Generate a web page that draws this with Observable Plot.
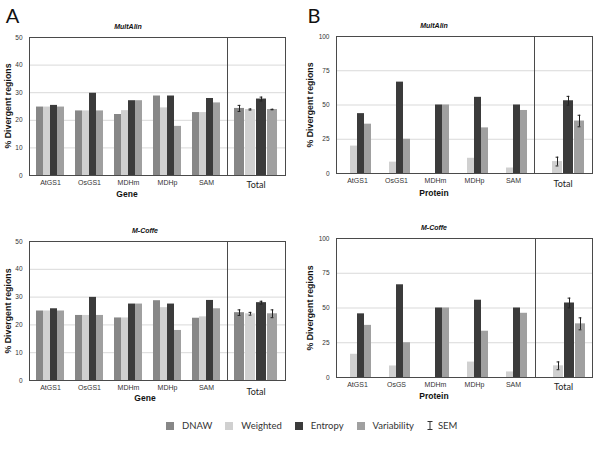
<!DOCTYPE html>
<html>
<head>
<meta charset="utf-8">
<script src="https://cdn.jsdelivr.net/npm/d3@7"></script>
<script src="https://cdn.jsdelivr.net/npm/@observablehq/plot@0.6"></script>
<style>
  body { margin: 0; background: #fff; }
  #fig { position: relative; width: 600px; height: 450px; overflow: hidden; font-family: "Liberation Sans", Arial, sans-serif; background: #fff; }
  #fig > svg, #fig > figure { position: absolute; margin: 0; }
  .t { position: absolute; white-space: nowrap; transform: translate(-50%, -50%); color: #111; line-height: 1; }
  .title { font-weight: bold; font-style: italic; font-size: 7px; }
  .axt { font-weight: bold; font-size: 8.5px; }
  .ylab { font-weight: bold; font-size: 8.8px; transform: translate(-50%, -50%) rotate(-90deg); }
  .tot { font-family: Lato, sans-serif; font-size: 9px; color: #222; }
  .letter { font-family: Lato, sans-serif; font-size: 20px; color: #111; }
  #legend { position: absolute; left: 166px; top: 420px; display: flex; align-items: center; font-family: Lato, sans-serif; font-size: 9.5px; color: #333; }
  #legend .sw { width: 8px; height: 8px; margin-right: 8px; }
  #legend .lab { margin-right: 13px; }
</style>
</head>
<body>
<div id="fig"></div>
<script>
// ---------- data ----------
const series = ["DNAW", "Weighted", "Entropy", "Variability"];
const seriesColors = ["#878787", "#d0d0d0", "#3b3b3b", "#a0a0a0"];

const geneCategories = ["AtGS1", "OsGS1", "MDHm", "MDHp", "SAM"];
const proteinCategoriesMultAlin = ["AtGS1", "OsGS1", "MDHm", "MDHp", "SAM"];
const proteinCategoriesMCoffe = ["AtGS1", "OsGS", "MDHm", "MDHp", "SAM"];
const geneTicks = [0, 10, 20, 30, 40, 50];
const proteinTicks = [0, 25, 50, 75, 100];

// A – MultAlin (Gene)
const geneMultAlinDNAW = [24.8, 23.4, 22.1, 28.8, 22.8];
const geneMultAlinWeighted = [24.8, 23.4, 23.5, 24.5, 22.8];
const geneMultAlinEntropy = [25.4, 29.8, 27.1, 28.8, 27.9];
const geneMultAlinVariability = [24.8, 23.4, 27.1, 17.8, 26.3];
const geneMultAlinTotal = [24.3, 23.9, 27.7, 23.9];
const geneMultAlinSEM = [1.1, 0.2, 0.7, 0.1];

// A – M-Coffe (Gene)
const geneMCoffeDNAW = [25.0, 23.4, 22.5, 28.7, 22.4];
const geneMCoffeWeighted = [25.0, 23.4, 22.5, 26.2, 22.9];
const geneMCoffeEntropy = [25.8, 29.9, 27.5, 27.5, 28.8];
const geneMCoffeVariability = [25.0, 23.4, 27.5, 18.0, 25.8];
const geneMCoffeTotal = [24.4, 24.0, 28.0, 24.0];
const geneMCoffeSEM = [1.0, 0.5, 0.5, 1.4];

// B – MultAlin (Protein)
const protMultAlinDNAW = [0, 0, 0, 0, 0];
const protMultAlinWeighted = [20.0, 8.3, 0, 11.1, 4.0];
const protMultAlinEntropy = [43.7, 66.7, 50.0, 55.6, 50.0];
const protMultAlinVariability = [36.0, 25.0, 50.0, 33.3, 46.0];
const protMultAlinTotal = [0, 8.7, 53.1, 38.3];
const protMultAlinSEM = [0, 3.2, 3.2, 4.2];

// B – M-Coffe (Protein)
const protMCoffeDNAW = [0, 0, 0, 0, 0];
const protMCoffeWeighted = [16.7, 8.3, 0, 11.1, 4.0];
const protMCoffeEntropy = [45.8, 66.7, 50.0, 55.6, 50.0];
const protMCoffeVariability = [37.5, 25.0, 50.0, 33.3, 46.2];
const protMCoffeTotal = [0, 8.4, 53.6, 38.6];
const protMCoffeSEM = [0, 2.8, 3.5, 4.3];

// ---------- helpers ----------
function rowsFrom(cats, arrays) {
  const rows = [];
  cats.forEach((c, i) => series.forEach((s, j) => rows.push({cat: c, series: s, value: arrays[j][i]})));
  return rows;
}
function totalsFrom(vals, sems) {
  return series.map((s, j) => ({series: s, value: vals[j], sem: sems[j]}));
}

const fig = document.getElementById("fig");
const GRID = "#d9d9d9", FRAME = "#4a4a4a";

function place(el, left, top) {
  el.style.position = "absolute";
  el.style.left = left + "px";
  el.style.top = top + "px";
  fig.appendChild(el);
}
function text(cls, str, x, y) {
  const d = document.createElement("div");
  d.className = "t " + cls;
  d.textContent = str;
  d.style.left = x + "px";
  d.style.top = y + "px";
  fig.appendChild(d);
}

function drawPanel(p) {
  const MT = 10, MB = 30;
  const h = p.bottom - p.top + MT + MB;
  const svgTop = p.top - MT;
  const baseStyle = {background: "transparent", fontFamily: "Liberation Sans, Arial, sans-serif", color: "#333", overflow: "visible"};
  const rows = rowsFrom(p.cats, p.values);
  const totals = totalsFrom(p.total, p.sem);
  const errs = totals.filter(d => d.sem > 0);

  // background: grid, frame, y axis
  const bg = Plot.plot({
    width: p.divider + 1, height: h,
    marginLeft: p.left, marginRight: 1, marginTop: MT, marginBottom: MB,
    style: {...baseStyle, fontSize: "6.5px"},
    y: {domain: [0, p.yMax], ticks: p.yTicks, tickSize: 0, tickPadding: 7, label: null},
    marks: [
      Plot.ruleY(p.yTicks, {stroke: GRID}),
      Plot.frame({stroke: FRAME})
    ]
  });
  place(bg, 0, svgTop);

  // foreground: grouped bars per category
  const fg = Plot.plot({
    width: p.divider + 1, height: h,
    marginLeft: p.left, marginRight: 1, marginTop: MT, marginBottom: MB,
    style: {...baseStyle, fontSize: "7px"},
    facet: {data: rows, x: "cat"},
    fx: {domain: p.cats, paddingInner: 0.22, paddingOuter: 0.11, axis: "bottom", label: null, tickSize: 0, tickPadding: 5},
    x: {domain: series, axis: null, paddingInner: 0.06, paddingOuter: 0},
    y: {domain: [0, p.yMax], axis: null},
    color: {domain: series, range: seriesColors},
    marks: [
      Plot.barY(rows, {x: "series", y: "value", fill: "series"}),
      Plot.ruleY([0], {stroke: FRAME})
    ]
  });
  place(fg, 0, svgTop);

  // right: Total with SEM
  const rt = Plot.plot({
    width: p.right - p.divider + 2, height: h,
    marginLeft: 1, marginRight: 1, marginTop: MT, marginBottom: MB,
    style: {...baseStyle, fontSize: "7px"},
    x: {domain: series, axis: null, paddingInner: 0.08, paddingOuter: 0.46},
    y: {domain: [0, p.yMax], axis: null},
    color: {domain: series, range: seriesColors},
    marks: [
      Plot.ruleY(p.yTicks, {stroke: GRID}),
      Plot.barY(totals, {x: "series", y: "value", fill: "series"}),
      Plot.ruleX(errs, {x: "series", y1: d => d.value - d.sem, y2: d => d.value + d.sem, stroke: "#222"}),
      Plot.tickY(errs, {x: "series", y: d => d.value - d.sem, stroke: "#222", insetLeft: 3.6, insetRight: 3.6}),
      Plot.tickY(errs, {x: "series", y: d => d.value + d.sem, stroke: "#222", insetLeft: 3.6, insetRight: 3.6}),
      Plot.frame({stroke: FRAME})
    ]
  });
  place(rt, p.divider - 1, svgTop);

  // texts
  text("title", p.title, p.titleX, p.top - 11);
  text("axt", p.xTitle, p.xTitleX, p.bottom + p.xTitleDy);
  text("ylab", "% Divergent regions", p.yLabX, (p.top + p.bottom) / 2);
  text("tot", "Total", (p.divider + p.right) / 2, p.bottom + p.totDy);
}

// ---------- panels ----------
drawPanel({
  left: 29, top: 37, bottom: 175, divider: 227, right: 285,
  cats: geneCategories,
  values: [geneMultAlinDNAW, geneMultAlinWeighted, geneMultAlinEntropy, geneMultAlinVariability],
  total: geneMultAlinTotal, sem: geneMultAlinSEM,
  yMax: 50, yTicks: geneTicks,
  title: "MultAlin", titleX: 128, xTitle: "Gene", xTitleX: 127, xTitleDy: 19,
  yLabX: 8, totDy: 9
});
drawPanel({
  left: 29, top: 241, bottom: 380, divider: 227, right: 285,
  cats: geneCategories,
  values: [geneMCoffeDNAW, geneMCoffeWeighted, geneMCoffeEntropy, geneMCoffeVariability],
  total: geneMCoffeTotal, sem: geneMCoffeSEM,
  yMax: 50, yTicks: geneTicks,
  title: "M-Coffe", titleX: 145, xTitle: "Gene", xTitleX: 145, xTitleDy: 18,
  yLabX: 8, totDy: 11
});
drawPanel({
  left: 336, top: 36, bottom: 173, divider: 534, right: 592,
  cats: proteinCategoriesMultAlin,
  values: [protMultAlinDNAW, protMultAlinWeighted, protMultAlinEntropy, protMultAlinVariability],
  total: protMultAlinTotal, sem: protMultAlinSEM,
  yMax: 100, yTicks: proteinTicks,
  title: "MultAlin", titleX: 434, xTitle: "Protein", xTitleX: 434, xTitleDy: 20,
  yLabX: 310, totDy: 10
});
drawPanel({
  left: 336, top: 238, bottom: 377, divider: 535, right: 592,
  cats: proteinCategoriesMCoffe,
  values: [protMCoffeDNAW, protMCoffeWeighted, protMCoffeEntropy, protMCoffeVariability],
  total: protMCoffeTotal, sem: protMCoffeSEM,
  yMax: 100, yTicks: proteinTicks,
  title: "M-Coffe", titleX: 434, xTitle: "Protein", xTitleX: 434, xTitleDy: 19,
  yLabX: 310, totDy: 9
});

text("letter", "A", 12.5, 15);
text("letter", "B", 314, 15);

// ---------- legend ----------
const legend = document.createElement("div");
legend.id = "legend";
series.forEach((s, i) => {
  const sw = document.createElement("span");
  sw.className = "sw";
  sw.style.background = seriesColors[i];
  const lab = document.createElement("span");
  lab.className = "lab";
  lab.textContent = s;
  legend.appendChild(sw);
  legend.appendChild(lab);
});
const semIcon = document.createElementNS("http://www.w3.org/2000/svg", "svg");
semIcon.setAttribute("width", "6");
semIcon.setAttribute("height", "9");
semIcon.style.marginRight = "5px";
semIcon.innerHTML = '<path d="M0.5,0.5H5.5M3,0.5V8.5M0.5,8.5H5.5" stroke="#333" stroke-width="1" fill="none"/>';
legend.appendChild(semIcon);
const semLab = document.createElement("span");
semLab.textContent = "SEM";
legend.appendChild(semLab);
fig.appendChild(legend);
</script>
</body>
</html>
